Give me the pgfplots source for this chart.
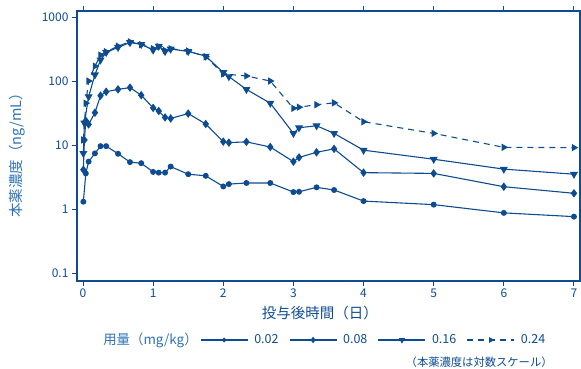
\documentclass[border=0pt]{standalone}
\usepackage{pgfplots}
\pgfplotsset{compat=1.18}
\usepackage{fontspec}
\setmainfont{Noto Sans CJK JP}
\definecolor{mainblue}{HTML}{0E4C92}
\definecolor{lightblue}{HTML}{2F73B8}
\begin{document}
\begin{tikzpicture}
\begin{axis}[
  scale only axis, width=503pt, height=270pt,
  clip mode=individual,
  ymode=log, log basis y=10,
  xmin=-0.0856, xmax=7.086,
  ymin=0.075, ymax=1242,
  xtick={0,1,2,3,4,5,6,7},
  ytick={0.1,1,10,100,1000},
  yticklabels={0.1,1,10,100,1000},
  minor ytick={}, 
  tick align=outside, major tick length=5pt,
  tick style={color=mainblue, line width=1pt},
  axis line style={color=mainblue, line width=1.1pt},
  ticklabel style={font=\fontsize{12}{14}\selectfont, text=mainblue},
  /pgf/number format/assume math mode=true,
  xticklabel style={yshift=1pt},
  xlabel={投与後時間（日）},
  xlabel style={at={(axis description cs:0.483,-0.1185)}, anchor=center, font=\fontsize{14.5}{16}\selectfont, text=mainblue},
  ylabel={本薬濃度（ng/mL）},
  ylabel style={at={(axis description cs:-0.119,0.478)}, anchor=center, rotate=0, font=\fontsize{14.5}{16}\selectfont, text=lightblue},
  legend columns=-1,
  legend style={at={(axis description cs:0.04,-0.2185)}, anchor=west, draw=none, fill=none, inner sep=0pt,
    font=\fontsize{12.5}{14}\selectfont, text=mainblue,
    /tikz/every odd column/.append style={column sep=4pt},
    /tikz/every even column/.append style={column sep=8.5pt}},
  legend image code/.code={\draw[mark repeat=2,mark phase=2,/tikz/every mark/.append style={scale=0.7}] plot coordinates {(0pt,0pt) (23.5pt,0pt) (47pt,0pt)};},
  every axis plot/.append style={color=mainblue, line width=1.1pt},
]
\addlegendimage{empty legend}
\addlegendentry{\fontsize{13.4}{14}\selectfont\textcolor{lightblue}{用量（mg/kg）}\hspace*{-8pt}}
\addplot[mark=*, mark size=2.4pt] coordinates {
(0.005,1.3)(0.04,3.6)(0.08,5.5)(0.17,7.4)(0.25,9.6)(0.33,9.6)(0.5,7.3)(0.67,5.4)(0.83,5.2)(1,3.8)(1.08,3.7)(1.17,3.7)(1.25,4.6)(1.5,3.5)(1.75,3.3)(2,2.25)(2.08,2.45)(2.33,2.55)(2.67,2.55)(3,1.84)(3.08,1.86)(3.33,2.18)(3.58,1.98)(4,1.33)(5,1.17)(6,0.87)(7,0.76)};
\addlegendentry{0.02}
\addplot[mark=diamond*, mark size=3.4pt] coordinates {
(0.005,4.1)(0.02,12)(0.04,24)(0.08,21)(0.17,32)(0.25,59)(0.33,68)(0.5,74)(0.67,79)(0.83,60)(1,38)(1.08,34)(1.17,27)(1.25,26)(1.5,31)(1.75,21.3)(2,11.3)(2.08,10.9)(2.33,11.2)(2.67,9.3)(3,5.5)(3.08,6.4)(3.33,7.7)(3.58,8.7)(4,3.7)(5,3.6)(6,2.23)(7,1.76)};
\addlegendentry{0.08}
\addplot[mark=triangle*, mark size=3.6pt, mark options={rotate=180}] coordinates {
(0.005,7.4)(0.02,22)(0.08,57)(0.17,125)(0.25,214)(0.33,280)(0.5,336)(0.67,400)(0.83,374)(1,305)(1.08,350)(1.17,290)(1.25,316)(1.5,290)(1.75,245)(2,136)(2.08,117)(2.33,74)(2.67,45)(3,15.2)(3.08,18.6)(3.33,20)(3.58,15.2)(4,8.3)(5,6.0)(6,4.2)(7,3.5)};
\addlegendentry{0.16}
\addplot[mark=triangle*, mark size=3.2pt, mark options={rotate=-90, solid}, dash pattern=on 6pt off 5pt] coordinates {
(0.005,12)(0.04,45)(0.08,100)(0.17,171)(0.25,254)(0.33,287)(0.5,350)(0.67,410)(0.83,370)(1,320)(1.08,345)(1.17,300)(1.25,320)(1.5,295)(1.75,240)(2,129)(2.33,120)(2.67,100)(3,37.4)(3.08,39)(3.33,42.6)(3.58,45.6)(4,23.1)(5,15.2)(6,9.2)(7,9.1)};
\addlegendentry{0.24}
\node[anchor=east, inner sep=0pt, font=\fontsize{11.3}{12}\selectfont, text=mainblue] at (axis description cs:0.946,-0.3) {（本薬濃度は対数スケール）};
\end{axis}
\pgfresetboundingbox
\path (-77pt,-88pt) rectangle (504pt,281pt);
\end{tikzpicture}
\end{document}
